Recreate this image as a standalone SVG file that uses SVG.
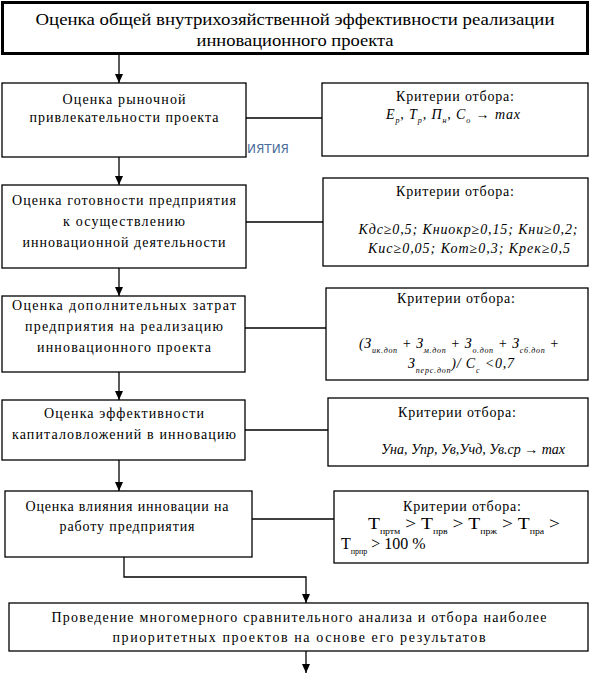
<svg xmlns="http://www.w3.org/2000/svg" width="593" height="676" viewBox="0 0 593 676" font-family="Liberation Serif, Times New Roman, DejaVu Serif, serif">
<style>
.box{fill:#fff;stroke:#000;stroke-width:1.3}
.top{fill:#fff;stroke:#000;stroke-width:3}
.t{font-size:14px;text-anchor:middle;fill:#000}
.tt{font-size:17px;text-anchor:middle;fill:#000}
.f{font-size:14px;font-style:italic;text-anchor:middle;fill:#000}
.fu{font-size:16px;text-anchor:middle;fill:#000}
.s{font-size:8px}
.ln{fill:none;stroke:#000;stroke-width:1.3}
.wm{font-size:12px;fill:#4a6d9c}
</style>
<defs>
<marker id="ahd" markerUnits="userSpaceOnUse" markerWidth="9" markerHeight="8" refX="9" refY="4" orient="auto" viewBox="0 0 9 8">
<path d="M0,0 L9,4 L0,8 Z" fill="#000"/>
</marker>
</defs>

<text class="wm" x="247" y="153" font-family="DejaVu Sans, Liberation Sans, sans-serif">ИЯТИЯ</text>

<g id="connectors">
<path class="ln" d="M119,55 V83" marker-end="url(#ahd)"/>
<path class="ln" d="M119,157 V185" marker-end="url(#ahd)"/>
<path class="ln" d="M119,268 V296" marker-end="url(#ahd)"/>
<path class="ln" d="M119,372 V400" marker-end="url(#ahd)"/>
<path class="ln" d="M119,460 V491" marker-end="url(#ahd)"/>
<path class="ln" d="M124,557 V577 H306 V603" marker-end="url(#ahd)"/>
<path class="ln" d="M306,651 V673" marker-end="url(#ahd)"/>
<path class="ln" d="M246,118 H322"/>
<path class="ln" d="M246,222 H323"/>
<path class="ln" d="M245,328 H326"/>
<path class="ln" d="M245,430 H328"/>
<path class="ln" d="M252,519 H334"/>
</g>

<g id="node-title">
<rect class="top" x="2.5" y="2.5" width="585" height="51"/>
<text class="tt" x="295" y="25" textLength="519" lengthAdjust="spacingAndGlyphs">Оценка общей внутрихозяйственной эффективности реализации</text>
<text class="tt" x="295" y="46" textLength="197" lengthAdjust="spacingAndGlyphs">инновационного проекта</text>
</g>

<g id="node-1">
<rect class="box" x="2" y="83" width="244" height="74"/>
<text class="t" x="124" y="104" textLength="123" lengthAdjust="spacing">Оценка рыночной</text>
<text class="t" x="124" y="122" textLength="189" lengthAdjust="spacing">привлекательности проекта</text>
</g>
<g id="crit-1">
<rect class="box" x="322" y="83" width="266" height="73"/>
<text class="t" x="455" y="101" textLength="118" lengthAdjust="spacing">Критерии отбора:</text>
<text class="f" x="453" y="119" textLength="134" lengthAdjust="spacing">Е<tspan class="s" dy="4">р</tspan><tspan dy="-4">, Т</tspan><tspan class="s" dy="4">р</tspan><tspan dy="-4">, П</tspan><tspan class="s" dy="4">н</tspan><tspan dy="-4">, С</tspan><tspan class="s" dy="4">о</tspan><tspan dy="-4"> → max</tspan></text>
</g>

<g id="node-2">
<rect class="box" x="2" y="185" width="244" height="83"/>
<text class="t" x="124" y="205" textLength="224" lengthAdjust="spacing">Оценка готовности предприятия</text>
<text class="t" x="124" y="226" textLength="122" lengthAdjust="spacing">к осуществлению</text>
<text class="t" x="124" y="247" textLength="203" lengthAdjust="spacing">инновационной деятельности</text>
</g>
<g id="crit-2">
<rect class="box" x="323" y="178" width="265" height="88"/>
<text class="t" x="455" y="196" textLength="118" lengthAdjust="spacing">Критерии отбора:</text>
<text class="f" x="468" y="234" textLength="219" lengthAdjust="spacing">Кдс≥0,5; Книокр≥0,15; Кни≥0,2;</text>
<text class="f" x="469" y="253" textLength="202" lengthAdjust="spacing">Кис≥0,05; Кот≥0,3; Крек≥0,5</text>
</g>

<g id="node-3">
<rect class="box" x="2" y="296" width="243" height="76"/>
<text class="t" x="124" y="310" textLength="224" lengthAdjust="spacing">Оценка дополнительных затрат</text>
<text class="t" x="124" y="331" textLength="198" lengthAdjust="spacing">предприятия на реализацию</text>
<text class="t" x="124" y="352" textLength="174" lengthAdjust="spacing">инновационного проекта</text>
</g>
<g id="crit-3">
<rect class="box" x="326" y="288" width="262" height="92"/>
<text class="t" x="456" y="303" textLength="118" lengthAdjust="spacing">Критерии отбора:</text>
<text class="f" x="459" y="348" textLength="200" lengthAdjust="spacing">(З<tspan class="s" dy="5">ик.доп</tspan><tspan dy="-5"> + З</tspan><tspan class="s" dy="5">м.доп</tspan><tspan dy="-5"> + З</tspan><tspan class="s" dy="5">о.доп</tspan><tspan dy="-5"> + З</tspan><tspan class="s" dy="5">сб.доп</tspan><tspan dy="-5"> +</tspan></text>
<text class="f" x="461" y="368" textLength="106" lengthAdjust="spacing">З<tspan class="s" dy="5">перс.доп</tspan><tspan dy="-5">)/ С</tspan><tspan class="s" dy="5">с</tspan><tspan dy="-5"> &lt;0,7</tspan></text>
</g>

<g id="node-4">
<rect class="box" x="2" y="400" width="243" height="60"/>
<text class="t" x="124" y="418" textLength="160" lengthAdjust="spacing">Оценка эффективности</text>
<text class="t" x="124" y="439" textLength="224" lengthAdjust="spacing">капиталовложений в инновацию</text>
</g>
<g id="crit-4">
<rect class="box" x="328" y="398" width="260" height="68"/>
<text class="t" x="457" y="417" textLength="118" lengthAdjust="spacing">Критерии отбора:</text>
<text class="f" x="473" y="454" textLength="184" lengthAdjust="spacing">Уна, Упр, Ув,Учд, Ув.ср → max</text>
</g>

<g id="node-5">
<rect class="box" x="5" y="491" width="247" height="66"/>
<text class="t" x="127" y="511" textLength="203" lengthAdjust="spacing">Оценка влияния инновации на</text>
<text class="t" x="127" y="531" textLength="135" lengthAdjust="spacing">работу предприятия</text>
</g>
<g id="crit-5">
<rect class="box" x="334" y="491" width="254" height="72"/>
<text class="t" x="462" y="511" textLength="118" lengthAdjust="spacing">Критерии отбора:</text>
<text class="fu" x="464" y="529" textLength="192" lengthAdjust="spacingAndGlyphs">Т<tspan class="s" dy="5">пртм</tspan><tspan dy="-5"> &gt; Т</tspan><tspan class="s" dy="5">прв</tspan><tspan dy="-5"> &gt; Т</tspan><tspan class="s" dy="5">прж</tspan><tspan dy="-5"> &gt; Т</tspan><tspan class="s" dy="5">пра</tspan><tspan dy="-5"> &gt;</tspan></text>
<text class="fu" x="341" y="549" text-anchor="start" style="text-anchor:start">Т<tspan class="s" dy="5">прпр</tspan><tspan dy="-5"> &gt; 100 %</tspan></text>
</g>

<g id="node-6">
<rect class="box" x="9" y="603" width="579" height="48"/>
<text class="t" x="299" y="622" textLength="495" lengthAdjust="spacing">Проведение многомерного сравнительного анализа и отбора наиболее</text>
<text class="t" x="299" y="642" textLength="373" lengthAdjust="spacing">приоритетных проектов на основе его результатов</text>
</g>
</svg>
